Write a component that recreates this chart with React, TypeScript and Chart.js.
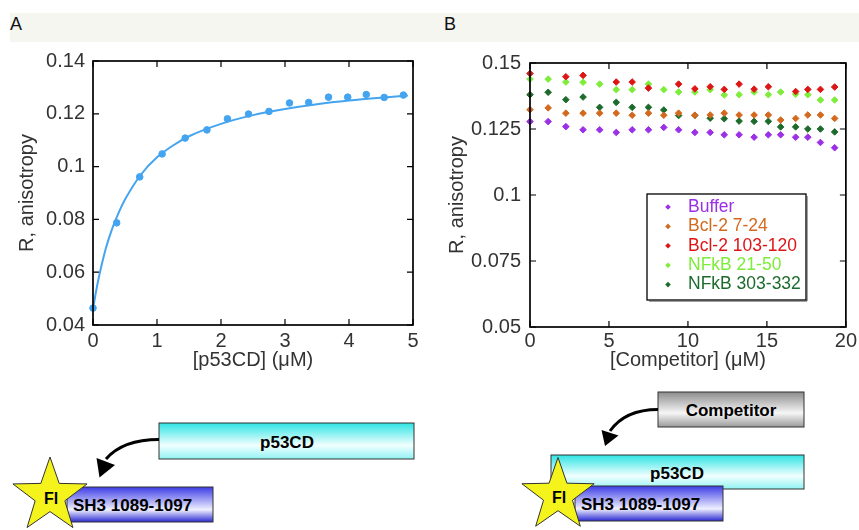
import React, { useEffect, useRef } from "react";
import { Chart, registerables } from "chart.js";

Chart.register(...registerables);

// ---------- Panel A data ----------
const p53X = [0, 0.37, 0.73, 1.08, 1.44, 1.78, 2.1, 2.43, 2.75, 3.07, 3.37, 3.68, 3.98, 4.27, 4.55, 4.85];
const p53R = [0.0464, 0.0787, 0.0961, 0.1048, 0.1108, 0.1139, 0.1181, 0.1199, 0.1209, 0.1241, 0.1243, 0.1263, 0.1263, 0.1273, 0.1262, 0.1271];
const fitX = [0, 0.05, 0.1, 0.2, 0.3, 0.4, 0.5, 0.75, 1, 1.25, 1.5, 2, 2.5, 3, 3.5, 4, 4.5, 4.92];
const fitR = [0.046, 0.053, 0.059, 0.069, 0.0765, 0.0825, 0.0875, 0.097, 0.1035, 0.108, 0.1115, 0.1162, 0.1195, 0.1218, 0.1236, 0.125, 0.1261, 0.1269];
const xTicksA = [0, 1, 2, 3, 4, 5];
const yTicksA = [0.04, 0.06, 0.08, 0.1, 0.12, 0.14];

// ---------- Panel B data ----------
const competitorX = [0, 1.15, 2.27, 3.36, 4.41, 5.46, 6.47, 7.5, 8.47, 9.41, 10.44, 11.41, 12.3, 13.24, 14.19, 15.09, 15.87, 16.82, 17.59, 18.39, 19.29];
const buffer = [0.1278, 0.1278, 0.1259, 0.1247, 0.1247, 0.1237, 0.1247, 0.1247, 0.1256, 0.1247, 0.1237, 0.1237, 0.1228, 0.1228, 0.1219, 0.1228, 0.1228, 0.1219, 0.1219, 0.1199, 0.1179];
const bcl2_7_24 = [0.1323, 0.133, 0.131, 0.131, 0.131, 0.131, 0.1302, 0.131, 0.1302, 0.131, 0.1302, 0.1303, 0.131, 0.1303, 0.1303, 0.1303, 0.1284, 0.129, 0.1303, 0.1303, 0.129];
const bcl2_103_120 = [0.146, null, 0.1448, 0.1453, null, 0.1428, 0.1428, 0.1405, null, 0.142, 0.1402, 0.141, 0.14, 0.142, 0.1401, 0.141, null, 0.1392, 0.14, 0.14, 0.1409];
const nfkb_21_50 = [0.1439, 0.1439, 0.1428, 0.1427, 0.142, 0.1399, 0.1399, 0.142, 0.1399, 0.139, 0.139, 0.1399, 0.1379, 0.138, 0.139, 0.138, 0.139, 0.1382, 0.138, 0.136, 0.136];
const nfkb_303_332 = [0.138, 0.1389, 0.1361, 0.1371, 0.1332, 0.1351, 0.1332, 0.1332, 0.1322, 0.1301, 0.1302, 0.1291, 0.1289, 0.128, 0.1279, 0.1279, 0.1258, 0.1258, 0.125, 0.125, 0.1239];
const seriesLabels = ["Buffer", "Bcl-2 7-24", "Bcl-2 103-120", "NFkB 21-50", "NFkB 303-332"];
const seriesColors = ["#9b30e6", "#d2691e", "#dd1515", "#7ded3a", "#1d6b2c"];
const xTicksB = [0, 5, 10, 15, 20];
const yTicksB = [0.05, 0.075, 0.1, 0.125, 0.15];

const BLUE = "#44a4f0";
const AXIS_FONT = { family: "'Liberation Sans', Arial, sans-serif", size: 20 };
const AXIS_COLOR = "#333";

const framePlugin = {
  id: "frame",
  afterDraw(chart: any) {
    const { ctx, chartArea: a, scales } = chart;
    ctx.save();
    ctx.strokeStyle = "#000";
    ctx.lineWidth = 1.2;
    const t = 6;
    ctx.beginPath();
    scales.x.ticks.forEach((tk: any) => {
      const px = scales.x.getPixelForValue(tk.value);
      ctx.moveTo(px, a.bottom);
      ctx.lineTo(px, a.bottom - t);
      ctx.moveTo(px, a.top);
      ctx.lineTo(px, a.top + t);
    });
    scales.y.ticks.forEach((tk: any) => {
      const py = scales.y.getPixelForValue(tk.value);
      ctx.moveTo(a.left, py);
      ctx.lineTo(a.left + t, py);
      ctx.moveTo(a.right, py);
      ctx.lineTo(a.right - t, py);
    });
    ctx.stroke();
    ctx.lineWidth = 1.7;
    ctx.strokeRect(a.left, a.top, a.right - a.left, a.bottom - a.top);
    ctx.restore();
  },
};

function makeLegendPlugin(box: { left: number; top: number; width: number; height: number; rowStart: number; rowStep: number; markerX: number; textX: number }) {
  return {
    id: "legendBox",
    afterDraw(chart: any) {
      const { ctx } = chart;
      ctx.save();
      ctx.fillStyle = "#fff";
      ctx.fillRect(box.left, box.top, box.width, box.height);
      ctx.strokeStyle = "#000";
      ctx.lineWidth = 1.3;
      ctx.strokeRect(box.left, box.top, box.width, box.height);
      ctx.beginPath();
      ctx.moveTo(box.left + box.width + 1, box.top + 2);
      ctx.lineTo(box.left + box.width + 1, box.top + box.height + 1);
      ctx.lineTo(box.left + 2, box.top + box.height + 1);
      ctx.lineWidth = 1;
      ctx.strokeStyle = "#444";
      ctx.stroke();
      ctx.font = "17.5px 'Liberation Sans', Arial, sans-serif";
      ctx.textBaseline = "middle";
      ctx.textAlign = "left";
      chart.data.datasets.forEach((ds: any, i: number) => {
        const y = box.rowStart + i * box.rowStep;
        const r = 2.8;
        ctx.fillStyle = ds.backgroundColor;
        ctx.beginPath();
        ctx.moveTo(box.markerX, y - r);
        ctx.lineTo(box.markerX + r, y);
        ctx.lineTo(box.markerX, y + r);
        ctx.lineTo(box.markerX - r, y);
        ctx.closePath();
        ctx.fill();
        ctx.fillText(ds.label, box.textX, y);
      });
      ctx.restore();
    },
  };
}

function axis(min: number, max: number, ticks: number[], title: string, size: number, tickPad: number, titlePad: any, horizontal: boolean) {
  return {
    type: "linear",
    min,
    max,
    afterBuildTicks: (s: any) => {
      s.ticks = ticks.map((v) => ({ value: v }));
    },
    afterFit: (s: any) => {
      if (horizontal) s.height = size;
      else s.width = size;
    },
    grid: { display: false, drawTicks: false },
    border: { display: false },
    ticks: {
      padding: tickPad,
      font: AXIS_FONT,
      color: AXIS_COLOR,
      autoSkip: false,
      maxRotation: 0,
      callback: (v: any) => String(v),
    },
    title: { display: true, text: title, font: AXIS_FONT, color: AXIS_COLOR, padding: titlePad },
  };
}

function Star({ cx, cy, R }: { cx: number; cy: number; R: number }) {
  const pts: string[] = [];
  for (let k = 0; k < 10; k++) {
    const ang = -Math.PI / 2 + (k * Math.PI) / 5;
    const rad = k % 2 === 0 ? R : R * 0.4;
    pts.push(`${cx + rad * Math.cos(ang)},${cy + rad * Math.sin(ang)}`);
  }
  return (
    <g>
      <polygon points={pts.join(" ")} fill="#f4f41c" stroke="#333" strokeWidth={1} />
      <text x={cx + 1} y={cy + 7.5} textAnchor="middle" fontFamily="'Liberation Sans', Arial, sans-serif" fontWeight="bold" fontSize={16} fill="#000">
        Fl
      </text>
    </g>
  );
}

function Bar({ x, y, w, h, grad, label, tx, anchor }: { x: number; y: number; w: number; h: number; grad: string; label: string; tx: number; anchor: string }) {
  return (
    <g>
      <rect x={x} y={y} width={w} height={h} fill={`url(#${grad})`} stroke="#333" strokeWidth={1} />
      <text x={tx} y={y + h / 2 + 6.5} textAnchor={anchor as any} fontFamily="'Liberation Sans', Arial, sans-serif" fontWeight="bold" fontSize={17} fill="#000">
        {label}
      </text>
    </g>
  );
}

export default function App() {
  const refA = useRef<HTMLCanvasElement>(null);
  const refB = useRef<HTMLCanvasElement>(null);

  useEffect(() => {
    const chartA = new Chart(refA.current as HTMLCanvasElement, {
      type: "scatter",
      data: {
        datasets: [
          {
            label: "fit",
            data: fitX.map((x, i) => ({ x, y: fitR[i] })),
            showLine: true,
            borderColor: BLUE,
            backgroundColor: BLUE,
            borderWidth: 2,
            pointRadius: 0,
            tension: 0.4,
            cubicInterpolationMode: "monotone",
            clip: false,
          } as any,
          {
            label: "p53CD",
            data: p53X.map((x, i) => ({ x, y: p53R[i] })),
            showLine: false,
            pointStyle: "circle",
            pointRadius: 3.3,
            borderWidth: 1,
            borderColor: BLUE,
            backgroundColor: BLUE,
            clip: false,
          } as any,
        ],
      },
      options: {
        animation: false,
        responsive: false,
        events: [],
        layout: { padding: { left: 0, top: 61, right: 17, bottom: 0 } },
        plugins: { legend: { display: false }, tooltip: { enabled: false } },
        scales: {
          x: axis(0, 5, xTicksA, "[p53CD] (μM)", 55, 4, { top: 0, bottom: 8 }, true),
          y: axis(0.04, 0.14, yTicksA, "R, anisotropy", 93, 8, { top: 15, bottom: 0 }, false),
        } as any,
      },
      plugins: [framePlugin],
    });

    const seriesB = [buffer, bcl2_7_24, bcl2_103_120, nfkb_21_50, nfkb_303_332];
    const chartB = new Chart(refB.current as HTMLCanvasElement, {
      type: "scatter",
      data: {
        datasets: seriesB.map((vals, si) => ({
          label: seriesLabels[si],
          data: competitorX.map((x, i) => ({ x, y: vals[i] })),
          showLine: false,
          pointStyle: "rectRot",
          pointRadius: 3.3,
          borderWidth: 1,
          borderColor: seriesColors[si],
          backgroundColor: seriesColors[si],
          clip: false,
        })) as any,
      },
      options: {
        animation: false,
        responsive: false,
        events: [],
        layout: { padding: { left: 0, top: 63, right: 12, bottom: 0 } },
        plugins: { legend: { display: false }, tooltip: { enabled: false } },
        scales: {
          x: axis(0, 20, xTicksB, "[Competitor] (μM)", 53, 2, { top: 0, bottom: 8 }, true),
          y: axis(0.05, 0.15, yTicksB, "R, anisotropy", 100, 9, { top: 15, bottom: 0 }, false),
        } as any,
      },
      plugins: [
        framePlugin,
        makeLegendPlugin({ left: 217, top: 194, width: 159, height: 106, rowStart: 207, rowStep: 19.4, markerX: 238, textX: 258 }),
      ],
    });

    return () => {
      chartA.destroy();
      chartB.destroy();
    };
  }, []);

  const font = "'Liberation Sans', Arial, sans-serif";

  return (
    <div style={{ position: "fixed", left: 0, top: 0, width: 859, height: 530, background: "#fff", overflow: "hidden" }}>
      <svg width={859} height={530} style={{ position: "absolute", left: 0, top: 0 }}>
        <defs>
          <linearGradient id="cyanG" x1="0" y1="0" x2="0" y2="1">
            <stop offset="0" stopColor="#2ee4e4" />
            <stop offset="0.62" stopColor="#f2ffff" />
            <stop offset="1" stopColor="#90f2f2" />
          </linearGradient>
          <linearGradient id="blueG" x1="0" y1="0" x2="0" y2="1">
            <stop offset="0" stopColor="#3c3ce6" />
            <stop offset="0.65" stopColor="#f0f0ff" />
            <stop offset="1" stopColor="#2a2ad2" />
          </linearGradient>
          <linearGradient id="grayG" x1="0" y1="0" x2="0" y2="1">
            <stop offset="0" stopColor="#8c8c8c" />
            <stop offset="0.6" stopColor="#f6f6f6" />
            <stop offset="1" stopColor="#9a9a9a" />
          </linearGradient>
        </defs>
        <rect x={10} y={13} width={849} height={29} fill="#f6f6f1" />
        <text x={10} y={29.5} fontFamily={font} fontSize={18} fill="#111">A</text>
        <text x={444} y={29.5} fontFamily={font} fontSize={18} fill="#111">B</text>

        {/* Panel A schematic */}
        <Bar x={159} y={423} w={255} h={36} grad="cyanG" label="p53CD" tx={287} anchor="middle" />
        <path d="M159,439.5 C140,439.5 119,444 106,459" fill="none" stroke="#000" strokeWidth={3} />
        <polygon points="96.5,458 115,465 99.5,477.5" fill="#000" />
        <Bar x={67} y={487} w={146} h={35} grad="blueG" label="SH3 1089-1097" tx={73} anchor="start" />
        <Star cx={50} cy={496} R={39} />

        {/* Panel B schematic */}
        <Bar x={658} y={392} w={146} h={35} grad="grayG" label="Competitor" tx={731} anchor="middle" />
        <path d="M658,409.5 C640,409.5 622,414 610,431" fill="none" stroke="#000" strokeWidth={3} />
        <polygon points="601.5,430 618.5,435.5 605,446" fill="#000" />
        <Bar x={551} y={455} w={253} h={34} grad="cyanG" label="p53CD" tx={677} anchor="middle" />
        <Bar x={575} y={486} w={148} h={35} grad="blueG" label="SH3 1089-1097" tx={581} anchor="start" />
        <Star cx={558} cy={495.5} R={38} />
      </svg>
      <canvas ref={refA} width={430} height={380} style={{ position: "absolute", left: 0, top: 0, width: 430, height: 380 }} />
      <canvas ref={refB} width={429} height={380} style={{ position: "absolute", left: 430, top: 0, width: 429, height: 380 }} />
    </div>
  );
}
